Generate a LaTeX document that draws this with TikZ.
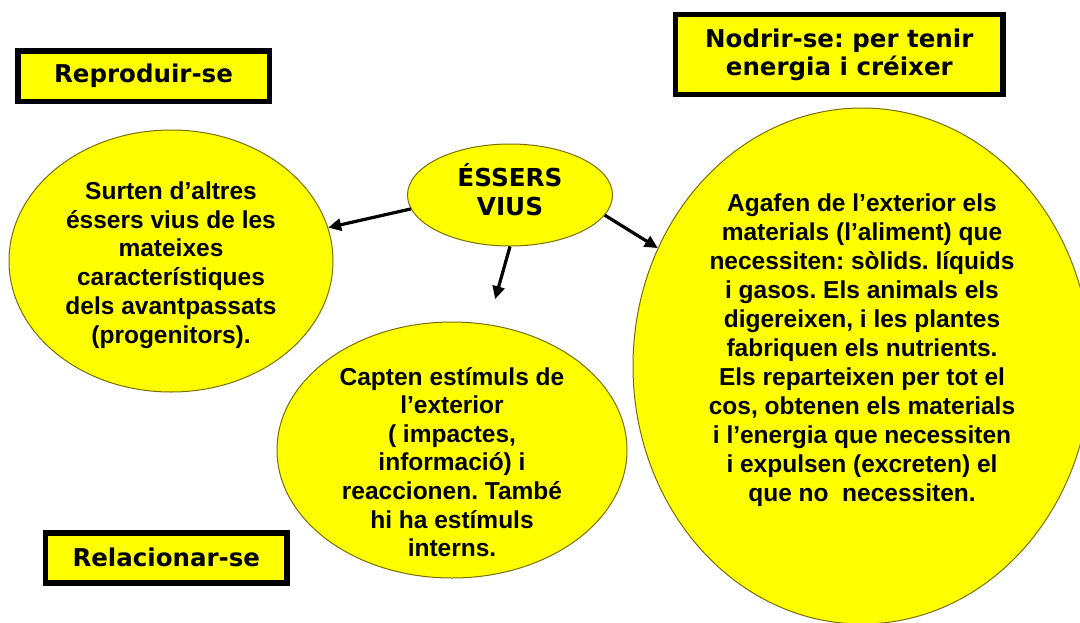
\documentclass[tikz,border=0pt]{standalone}
\usepackage{fontspec}
\setmainfont{Liberation Sans}
\newfontfamily\vfont{DejaVu Sans}
\usetikzlibrary{shapes.geometric,arrows.meta}
\definecolor{yel}{RGB}{255,255,0}
\definecolor{edgec}{RGB}{120,110,0}
\frenchspacing
\begin{document}
\begin{tikzpicture}[x=1pt,y=-1pt,
  titlebox/.style={draw=black,line width=5.5pt,fill=yel,inner sep=0pt,
    font=\vfont\bfseries\fontsize{24.5}{28}\selectfont,align=center},
  bubble/.style={ellipse,draw=edgec,line width=1pt,fill=yel,inner sep=0pt},
  bubtext/.style={align=center,inner sep=0pt},
  arr/.style={-{Triangle[length=13pt,width=12pt]},line width=3.2pt,black}]
\useasboundingbox (0,0) rectangle (1080,622);
\fill[white] (0,0) rectangle (1080,622);

% title boxes
\node[titlebox,minimum width=251.5pt,minimum height=50.5pt] (rep) at (143.5,76) {\frenchspacing Reproduir-se};
\node[titlebox,minimum width=327.5pt,minimum height=80pt] (nodbox) at (839.3,54.5) {\frenchspacing Nodrir-se: per tenir\\energia i créixer};
\node[titlebox,minimum width=241.5pt,minimum height=50pt] (rel) at (166.3,557.8) {Relacionar-se};

% bubbles
\node[bubble,minimum width=324pt,minimum height=262pt] (surt) at (171,261) {};
\node[bubble,minimum width=350pt,minimum height=256pt] (capt) at (452,450) {};
\node[bubble,minimum width=458pt,minimum height=516pt] (nutr) at (862,366) {};
\node[bubble,minimum width=205pt,minimum height=102pt] (ess) at (510,195) {};
\node[bubtext,font=\vfont\bfseries\fontsize{24.7}{29}\selectfont] (essT) at (510,190) {ÉSSERS\\VIUS};

% bubble texts
\node[bubtext,font=\bfseries\fontsize{24.5}{28.7}\selectfont] (surtT) at (171,265)
  {\frenchspacing Surten d’altres\\éssers vius de les\\mateixes\\característiques\\dels avantpassats\\(progenitors).};
\node[bubtext,font=\bfseries\fontsize{24.5}{28.6}\selectfont] (captT) at (452,462)
  {\frenchspacing Capten estímuls de\\l’exterior\\( impactes,\\informació) i\\reaccionen. També\\hi ha estímuls\\interns.};
\node[bubtext,font=\bfseries\fontsize{24.5}{29}\selectfont] (nutrT) at (862,350.5)
  {\frenchspacing Agafen de l’exterior els\\materials (l’aliment) que\\necessiten: sòlids. líquids\\i gasos. Els animals els\\digereixen, i les plantes\\fabriquen els nutrients.\\Els reparteixen per tot el\\cos, obtenen els materials\\i l’energia que necessiten\\i expulsen (excreten) el\\que no~ necessiten.};

% arrows
\draw[arr] (ess.188.5) -- (surt.12);
\draw[arr,shorten >=26pt] (ess.270) -- (capt.74);
\draw[arr] (ess.-12.5) -- (nutr.150);
\end{tikzpicture}
\end{document}
